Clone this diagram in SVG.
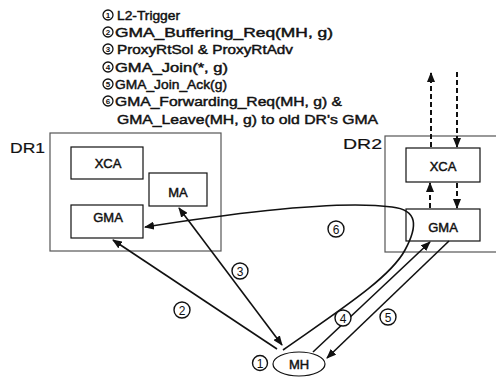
<svg xmlns="http://www.w3.org/2000/svg" width="496" height="378" viewBox="0 0 496 378">
<style>
.bg{fill:#fff}
.dr{fill:none;stroke:#555;stroke-width:1.2}
.box{fill:#fff;stroke:#111;stroke-width:1.2}
.lbl{font-family:"Liberation Sans",Arial,sans-serif;font-size:13px;fill:#111;stroke:#111;stroke-width:0.45;text-anchor:middle}
.drl{font-family:"Liberation Sans",Arial,sans-serif;font-size:15px;fill:#111;stroke:#111;stroke-width:0.2}
.lst{font-family:"Liberation Sans",Arial,sans-serif;font-size:13px;fill:#111;stroke:#111;stroke-width:0.45}
.cd{fill:#fff;stroke:#111;stroke-width:1.4}
.cdt{font-family:"Liberation Sans",Arial,sans-serif;font-size:12px;fill:#111;text-anchor:middle}
.cds{fill:#fff;stroke:#111;stroke-width:1.3}
.cdst{font-family:"Liberation Sans",Arial,sans-serif;font-weight:bold;font-size:8px;fill:#111;text-anchor:middle}
.ln{fill:none;stroke:#111;stroke-width:1.6}
.ds{fill:none;stroke:#111;stroke-width:2;stroke-dasharray:5 3}
</style>
<defs>
<marker id="ah" markerUnits="userSpaceOnUse" markerWidth="10" markerHeight="8" refX="9" refY="4" orient="auto-start-reverse">
<path d="M0,0 L10,4 L0,8 z" fill="#111"/>
</marker>
</defs>
<rect class="bg" x="0" y="0" width="496" height="378"/>

<g id="legend">
<circle class="cds" cx="108" cy="15" r="5"/><text class="cdst" x="108" y="18">1</text>
<text class="lst" x="117" y="19.5" textLength="63" lengthAdjust="spacingAndGlyphs">L2-Trigger</text>
<circle class="cds" cx="108" cy="32" r="5"/><text class="cdst" x="108" y="35">2</text>
<text class="lst" x="115" y="36.5" textLength="218" lengthAdjust="spacingAndGlyphs">GMA_Buffering_Req(MH, g)</text>
<circle class="cds" cx="108" cy="49" r="5"/><text class="cdst" x="108" y="52">3</text>
<text class="lst" x="117" y="53.5" textLength="176" lengthAdjust="spacingAndGlyphs">ProxyRtSol &amp; ProxyRtAdv</text>
<circle class="cds" cx="108" cy="67" r="5"/><text class="cdst" x="108" y="70">4</text>
<text class="lst" x="115" y="71.5" textLength="113" lengthAdjust="spacingAndGlyphs">GMA_Join(*, g)</text>
<circle class="cds" cx="108" cy="84" r="5"/><text class="cdst" x="108" y="87">5</text>
<text class="lst" x="115" y="88.5" textLength="112" lengthAdjust="spacingAndGlyphs">GMA_Join_Ack(g)</text>
<circle class="cds" cx="108" cy="101" r="5"/><text class="cdst" x="108" y="104">6</text>
<text class="lst" x="115" y="105.5" textLength="227" lengthAdjust="spacingAndGlyphs">GMA_Forwarding_Req(MH, g) &amp;</text>
<text class="lst" x="117" y="123.5" textLength="261" lengthAdjust="spacingAndGlyphs">GMA_Leave(MH, g) to old DR's GMA</text>
</g>

<g id="DR1">
<rect class="dr" x="50" y="133" width="171" height="118"/>
<text class="drl" x="10" y="152.5" textLength="35" lengthAdjust="spacingAndGlyphs">DR1</text>
</g>
<g id="DR1-XCA">
<rect class="box" x="71" y="147" width="72" height="32"/>
<text class="lbl" x="108" y="168">XCA</text>
</g>
<g id="DR1-MA">
<rect class="box" x="149" y="173" width="58" height="33"/>
<text class="lbl" x="178" y="196.5">MA</text>
</g>
<g id="DR1-GMA">
<rect class="box" x="71" y="205" width="72" height="33"/>
<text class="lbl" x="108" y="222">GMA</text>
</g>

<g id="DR2">
<rect class="dr" x="385" y="136" width="120" height="116"/>
<text class="drl" x="343" y="148.5" textLength="39" lengthAdjust="spacingAndGlyphs">DR2</text>
</g>
<g id="DR2-XCA">
<rect class="box" x="406" y="148" width="74" height="34"/>
<text class="lbl" x="443" y="170.5">XCA</text>
</g>
<g id="DR2-GMA">
<rect class="box" x="406" y="209" width="74" height="32"/>
<text class="lbl" x="443" y="231.5">GMA</text>
</g>

<g id="MH">
<ellipse class="box" cx="299" cy="364" rx="26" ry="12"/>
<text class="lbl" x="299" y="369">MH</text>
</g>

<g id="connectors">
<line class="ds" x1="431" y1="147" x2="431" y2="73" marker-end="url(#ah)"/>
<line class="ds" x1="457" y1="72" x2="457" y2="147" marker-end="url(#ah)"/>
<line class="ds" x1="430" y1="208" x2="430" y2="183" marker-end="url(#ah)"/>
<line class="ds" x1="457" y1="183" x2="457" y2="208" marker-end="url(#ah)"/>
<line class="ln" x1="277" y1="349" x2="113" y2="240" marker-end="url(#ah)"/>
<line class="ln" x1="282" y1="345" x2="179" y2="208" marker-start="url(#ah)" marker-end="url(#ah)"/>
<line class="ln" x1="313" y1="352" x2="430" y2="242" marker-end="url(#ah)"/>
<line class="ln" x1="449" y1="241" x2="327" y2="358" marker-end="url(#ah)"/>
<path class="ln" d="M283,350 C340,310 390,278 405,250 C418,226 418,210 392,207 C340,200 240,212 145,227" marker-end="url(#ah)"/>
</g>

<g id="labels">
<circle class="cd" cx="260" cy="363" r="7.5"/><text class="cdt" x="260" y="367.5">1</text>
<circle class="cd" cx="182" cy="310" r="8"/><text class="cdt" x="182" y="314.5">2</text>
<circle class="cd" cx="240" cy="271" r="8"/><text class="cdt" x="240" y="275.5">3</text>
<circle class="cd" cx="343" cy="318" r="8"/><text class="cdt" x="343" y="322.5">4</text>
<circle class="cd" cx="388" cy="317" r="8"/><text class="cdt" x="388" y="321.5">5</text>
<circle class="cd" cx="336" cy="229" r="8"/><text class="cdt" x="336" y="233.5">6</text>
</g>
</svg>
